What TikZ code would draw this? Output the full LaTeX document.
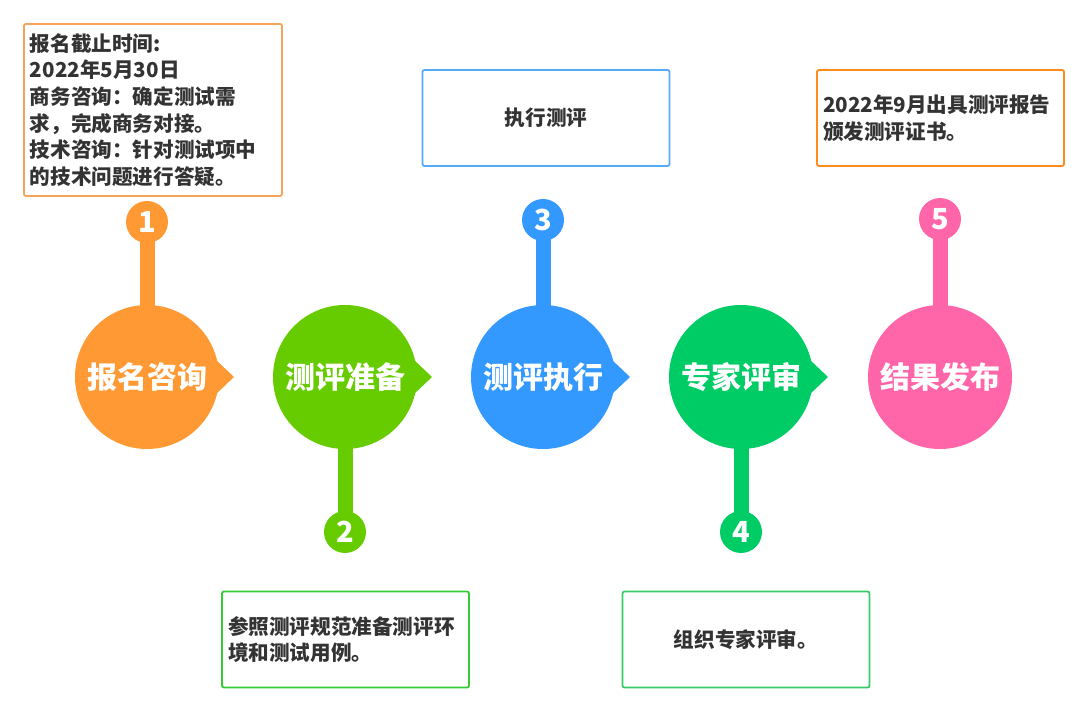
\documentclass[tikz,border=0pt]{standalone}
\usepackage{fontspec}
\setmainfont{Noto Sans CJK SC}
\usepackage{xcolor}
\usetikzlibrary{positioning}
\definecolor{cOrange}{HTML}{FF9933}
\definecolor{cLime}{HTML}{66CC00}
\definecolor{cBlue}{HTML}{3399FF}
\definecolor{cGreen}{HTML}{00CC66}
\definecolor{cPink}{HTML}{FF66AA}
\definecolor{bOrangeA}{HTML}{F7A45A}
\definecolor{bOrangeB}{HTML}{FF8C1A}
\definecolor{bBlue}{HTML}{55AAFF}
\definecolor{bGreen}{HTML}{33CC33}
\definecolor{bGreenB}{HTML}{33CC66}
\definecolor{txtgray}{HTML}{333333}

\begin{document}
\begin{tikzpicture}[x=1pt, y=-1pt,
    ball/.style={circle, fill=#1, minimum size=144pt, inner sep=0pt, text=white, font=\bfseries\fontsize{30}{36}\selectfont},
    numball/.style={circle, fill=#1, minimum size=42pt, inner sep=0pt, text=white, font=\bfseries\fontsize{29}{30}\selectfont},
    stem/.style={draw=#1, line width=15pt},
    note/.style={draw=#1, line width=1.8pt, rounded corners=2pt, minimum width=247pt, minimum height=96pt, inner xsep=6pt, text=txtgray, font=\bfseries\fontsize{20.6}{26.6}\selectfont}
]
    \useasboundingbox (0,0) rectangle (1080,703);

    \node[ball=cOrange] (c1) at (147,377) {报名咨询};
    \node[ball=cLime] (c2) at (345,377) {测评准备};
    \node[ball=cBlue] (c3) at (543,377) {测评执行};
    \node[ball=cGreen] (c4) at (741,377) {专家评审};
    \node[ball=cPink] (c5) at (940,377) {结果发布};

    \fill[cOrange, shift={(c1.center)}] (68,-18) -- (87,0) -- (68,18) -- cycle;
    \fill[cLime, shift={(c2.center)}] (68,-18) -- (87,0) -- (68,18) -- cycle;
    \fill[cBlue, shift={(c3.center)}] (68,-18) -- (87,0) -- (68,18) -- cycle;
    \fill[cGreen, shift={(c4.center)}] (68,-18) -- (87,0) -- (68,18) -- cycle;

    \node[numball=cOrange] (n1) at (147,222) {1};
    \node[numball=cLime] (n2) at (345,532) {2};
    \node[numball=cBlue] (n3) at (543,220) {3};
    \node[numball=cGreen] (n4) at (741,532) {4};
    \node[numball=cPink] (n5) at (940,219) {5};

    \draw[stem=cOrange] ([yshift=-2pt]c1.north) -- ([yshift=2pt]n1.south);
    \draw[stem=cLime] ([yshift=2pt]c2.south) -- ([yshift=-2pt]n2.north);
    \draw[stem=cBlue] ([yshift=-2pt]c3.north) -- ([yshift=2pt]n3.south);
    \draw[stem=cGreen] ([yshift=2pt]c4.south) -- ([yshift=-2pt]n4.north);
    \draw[stem=cPink] ([yshift=-2pt]c5.north) -- ([yshift=2pt]n5.south);

    \node[note=bOrangeA, minimum height=172pt, text width=246pt, align=left] (t1) at (153,110)
        {报名截止时间:\\2022年5月30日\\商务咨询：确定测试需\\求，完成商务对接。\\技术咨询：针对测试项中\\的技术问题进行答疑。};
    \node[note=bGreen, text width=235pt, align=left] (t2) at (345.5,639.5)
        {参照测评规范准备测评环\\境和测试用例。};
    \node[note=bBlue, align=center] (t3) at (546,118) {执行测评};
    \node[note=bGreenB, align=center] (t4) at (746,639.5) {组织专家评审。};
    \node[note=bOrangeB, text width=235pt, align=left] (t5) at (940.5,118)
        {2022年9月出具测评报告\\颁发测评证书。};
\end{tikzpicture}
\end{document}
